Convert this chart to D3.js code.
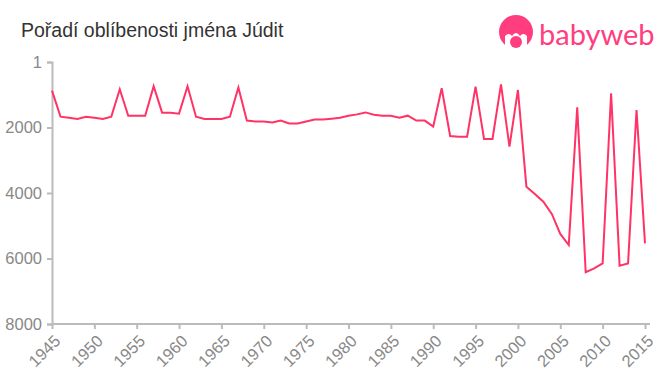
<!DOCTYPE html>
<html>
<head>
<meta charset="utf-8">
<script src="https://cdn.jsdelivr.net/npm/d3@7"></script>
<style>
  body { margin: 0; background: #fff; }
  svg { display: block; font-family: "Liberation Sans", Arial, sans-serif; }
</style>
</head>
<body>
<script>
// years shown on the chart
var years = d3.range(1945, 2016);

// popularity rank per year (1945..2015)
var ranks = [
  876, 1670, 1700, 1740, 1670, 1700, 1740, 1670, 835, 1640,
  1640, 1640, 740, 1548, 1548, 1578, 740, 1670, 1740, 1740,
  1740, 1670, 780, 1790, 1820, 1820, 1850, 1790, 1880, 1880,
  1820, 1760, 1760, 1730, 1700, 1640, 1600, 1540, 1610, 1640,
  1640, 1700, 1640, 1790, 1790, 1975, 803, 2260, 2280, 2280,
  754, 2350, 2350, 682, 2585, 855, 3807, 4030, 4265, 4640,
  5250, 5590, 1385, 6420, 6300, 6150, 957, 6220, 6150, 1466,
  5540
];

var xTicks = d3.range(1945, 2016, 5);
var yTicks = [1, 2000, 4000, 6000, 8000];

var width = 660, height = 375;

var svg = d3.select("body").append("svg")
  .attr("width", width)
  .attr("height", height);

var x = d3.scaleLinear().domain([1945, 2015]).range([52, 645]);
var y = d3.scaleLinear().domain([1, 8000]).range([62, 324]);

// title
svg.append("text")
  .attr("x", 21)
  .attr("y", 37)
  .attr("font-size", 19.5)
  .attr("fill", "#333")
  .text("Pořadí oblíbenosti jména Júdit");

// y axis
var yAxis = svg.append("g")
  .attr("transform", "translate(52,0)")
  .call(d3.axisLeft(y).tickValues(yTicks).tickFormat(d3.format("d")).tickSize(5).tickPadding(5));

// x axis
var xAxis = svg.append("g")
  .attr("transform", "translate(0,324)")
  .call(d3.axisBottom(x).tickValues(xTicks).tickFormat(d3.format("d")).tickSize(5));

xAxis.select(".domain").attr("d", "M52,0H650");

xAxis.selectAll("text")
  .attr("x", 0)
  .attr("y", 0)
  .attr("dy", "0.35em")
  .attr("text-anchor", "end")
  .attr("transform", "translate(5,14) rotate(-45)");

[xAxis, yAxis].forEach(function(ax) {
  ax.select(".domain").attr("stroke", "#bbb").attr("stroke-width", 2);
  ax.selectAll(".tick line").attr("stroke", "#bbb").attr("stroke-width", 2);
  ax.selectAll("text").attr("fill", "#888").attr("font-size", 16.5)
    .attr("font-family", "Liberation Sans, Arial, sans-serif");
});

// line
var line = d3.line()
  .x(function(d, i) { return x(years[i]); })
  .y(function(d) { return y(d); });

svg.append("path")
  .datum(ranks)
  .attr("fill", "none")
  .attr("stroke", "#ff3366")
  .attr("stroke-width", 2)
  .attr("stroke-linejoin", "miter")
  .attr("d", line);

// logo
var logo = svg.append("g").attr("transform", "translate(516,32)");
logo.append("circle").attr("r", 17).attr("fill", "#ff3d7f");
logo.append("path")
  .attr("d", "M-11,17 L-11,4 Q-7,0 -4,4 Q0,-2 4,4 Q7,0 11,4 L11,17 Z")
  .attr("fill", "#fff");
logo.append("circle").attr("cx", 0).attr("cy", 10).attr("r", 6).attr("fill", "#ff3d7f");
svg.append("text")
  .attr("x", 539)
  .attr("y", 45)
  .attr("font-size", 29)
  .attr("font-family", "Lato, 'Noto Sans', sans-serif")
  .attr("fill", "#ff3d7f")
  .text("babyweb");
</script>
</body>
</html>
